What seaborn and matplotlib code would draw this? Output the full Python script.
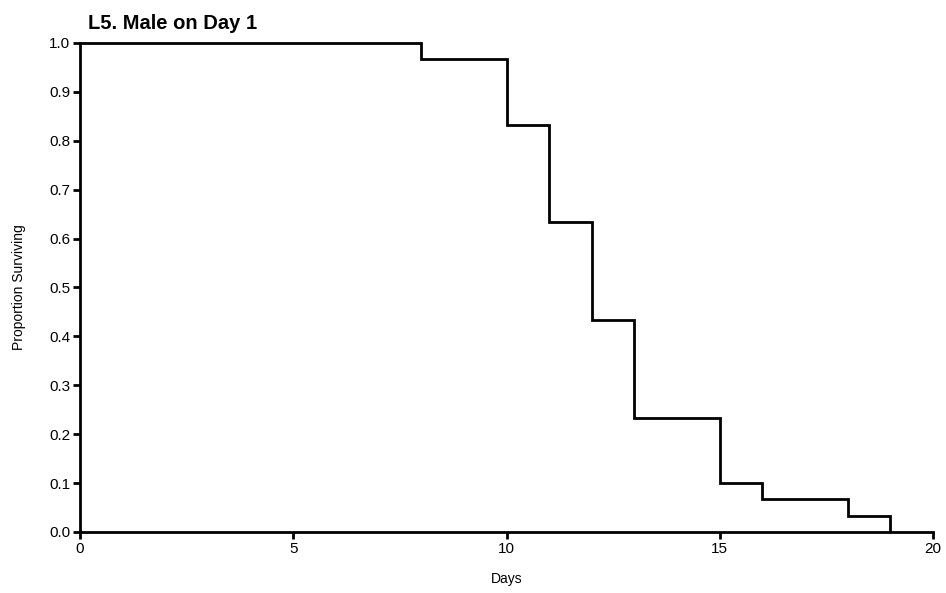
import matplotlib
matplotlib.use("Agg")
import matplotlib.pyplot as plt
import seaborn as sns
import pandas as pd

# Kaplan-Meier style survival steps
days = [0, 8, 10, 11, 12, 13, 15, 16, 18, 19]
surviving = [1.0, 0.967, 0.833, 0.633, 0.433, 0.233, 0.1, 0.067, 0.033, 0.0]
x_ticks = [0, 5, 10, 15, 20]
y_ticks = [0.0, 0.1, 0.2, 0.3, 0.4, 0.5, 0.6, 0.7, 0.8, 0.9, 1.0]

sns.set_theme(style="ticks")
plt.rcParams["font.family"] = ["Liberation Sans", "DejaVu Sans"]
plt.rcParams["text.color"] = "black"
plt.rcParams["axes.labelcolor"] = "black"

df = pd.DataFrame({"Days": days, "Proportion Surviving": surviving})

fig = plt.figure(figsize=(9.46, 5.93), dpi=100)
ax = fig.add_axes([0.0846, 0.1029, 0.9017, 0.8246])

sns.lineplot(data=df, x="Days", y="Proportion Surviving", ax=ax,
             drawstyle="steps-post", color="black", linewidth=2.0,
             estimator=None)
for line in ax.lines:
    line.set_clip_on(False)
    line.set_solid_joinstyle("miter")

ax.set_xlim(0, 20)
ax.set_ylim(0, 1.0)
ax.set_xticks(x_ticks)
ax.set_yticks(y_ticks)
ax.set_yticklabels([f"{v:.1f}" for v in y_ticks])

for side in ("top", "right"):
    ax.spines[side].set_visible(False)
for side in ("left", "bottom"):
    ax.spines[side].set_linewidth(2.0)
    ax.spines[side].set_color("black")

ax.tick_params(axis="both", direction="out", length=5, width=2.0,
               colors="black", labelsize=11, pad=2)
ax.set_xlabel("Days", fontsize=10, labelpad=12)
ax.set_ylabel("Proportion Surviving", fontsize=10, labelpad=17)
ax.set_title("L5. Male on Day 1", fontsize=14.5, fontweight="bold",
             loc="left", x=0.009, pad=10, color="black")

fig.savefig("out.png", dpi=100)
